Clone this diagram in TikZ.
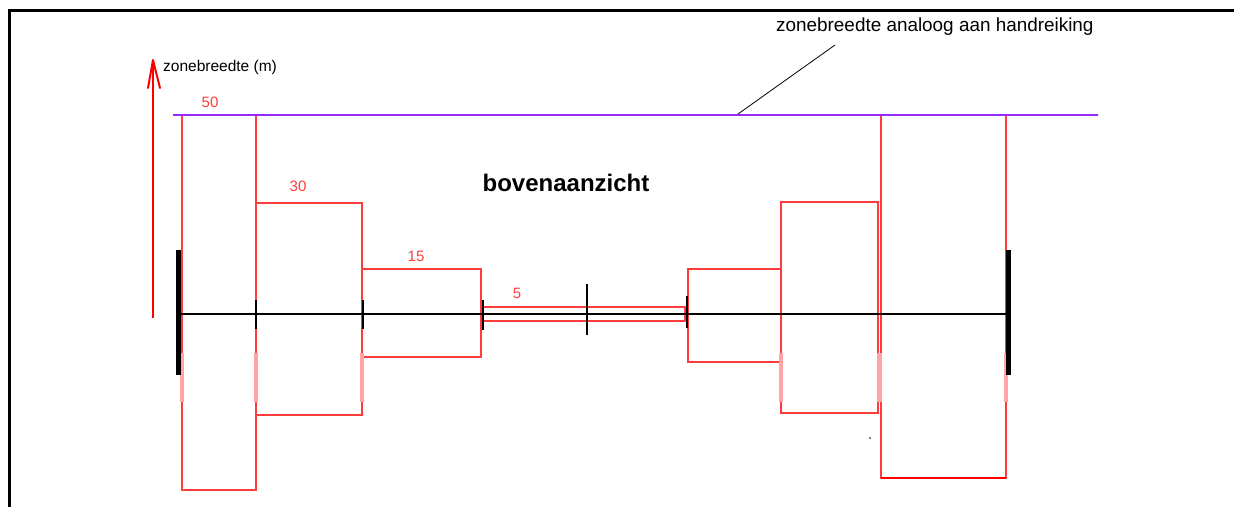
\documentclass[tikz,border=0pt]{standalone}
\usepackage{fontspec}
\setmainfont{Liberation Sans}
\definecolor{zred}{RGB}{255,60,60}
\definecolor{zarrow}{RGB}{255,0,0}
\definecolor{zpink}{RGB}{255,165,165}
\definecolor{zpurple}{RGB}{150,40,255}
\tikzset{
  redline/.style={draw=zred, line width=1.5pt},
  pinkseg/.style={draw=zpink, line width=4pt},
  tickmark/.style={draw=black, line width=1.5pt},
  bigbar/.style={draw=black, line width=5pt},
  numlbl/.style={text=zred, font=\fontsize{15}{15}\selectfont, inner sep=0pt},
  blacklbl/.style={text=black, font=\fontsize{15.5}{16}\selectfont, inner sep=0pt},
}
\begin{document}
\begin{tikzpicture}[x=1pt, y=-1pt]
\useasboundingbox[fill=white] (0,0) rectangle (1234,507);
% frame
\draw[line width=3pt] (1234,10) -- (9,10) -- (9,507);
% red rectangles (left side)
\draw[redline] (182,115) rectangle (256,490);
\draw[redline] (256,203) rectangle (362,415);
\draw[redline] (362,269) rectangle (481,357);
\draw[redline] (483,307) rectangle (685,321);
% right side
\draw[redline] (688,269) rectangle (781,362);
\draw[redline] (781,202) rectangle (878,413);
\draw[redline] (881,115) rectangle (1006,478);
\draw[draw=zarrow, line width=2.5pt] (881,478) -- (1006,478);
% faint pink segments
\foreach \xx in {182,256,362,781,1006}{
  \draw[pinkseg] (\xx,353) -- (\xx,402);
}
\draw[draw=zpink, line width=5pt] (879.5,353) -- (879.5,402);
% axis
\draw[line width=2pt] (178,314) -- (1008,314);
\draw[bigbar] (178,250) -- (178,375);
\draw[bigbar] (1008,250) -- (1008,375);
\draw[tickmark] (256,300) -- (256,329);
\draw[tickmark] (363,300) -- (363,329);
\draw[tickmark] (483,300) -- (483,330);
\draw[line width=2pt] (687,296) -- (687,328);
\draw[tickmark] (587,284) -- (587,335);
% purple top line
\draw[draw=zpurple, line width=2.5pt] (173,115) -- (1098,115);
% red axis arrow
\coordinate (arrowfoot) at (153,318);
\coordinate (arrowtip) at (153,60);
\draw[draw=zarrow, line width=2pt] (arrowfoot) -- (arrowtip);
\draw[draw=zarrow, line width=2pt, line cap=round, line join=round] (148,88) -- (arrowtip) -- (160,88);
% stray dot
\fill (870,438) circle (0.8);
% labels
\node[blacklbl, anchor=west] (ylabel) at (163,67) {zonebreedte (m)};
\node[numlbl] (n50) at (210,102) {50};
\node[numlbl] (n30) at (298,186) {30};
\node[numlbl] (n15) at (416,256) {15};
\node[numlbl] (n5) at (517,293) {5};
\node[inner sep=0pt, font=\bfseries\fontsize{24}{24}\selectfont] (title) at (566,183) {bovenaanzicht};
\node[inner sep=0pt, anchor=west, font=\fontsize{18.9}{19}\selectfont] (note) at (776,27) {zonebreedte analoog aan handreiking};
% leader line
\coordinate (leadstart) at (738,114);
\coordinate (leadend) at (835,45);
\draw[line width=0.8pt] (leadstart) -- (leadend);
\end{tikzpicture}
\end{document}
